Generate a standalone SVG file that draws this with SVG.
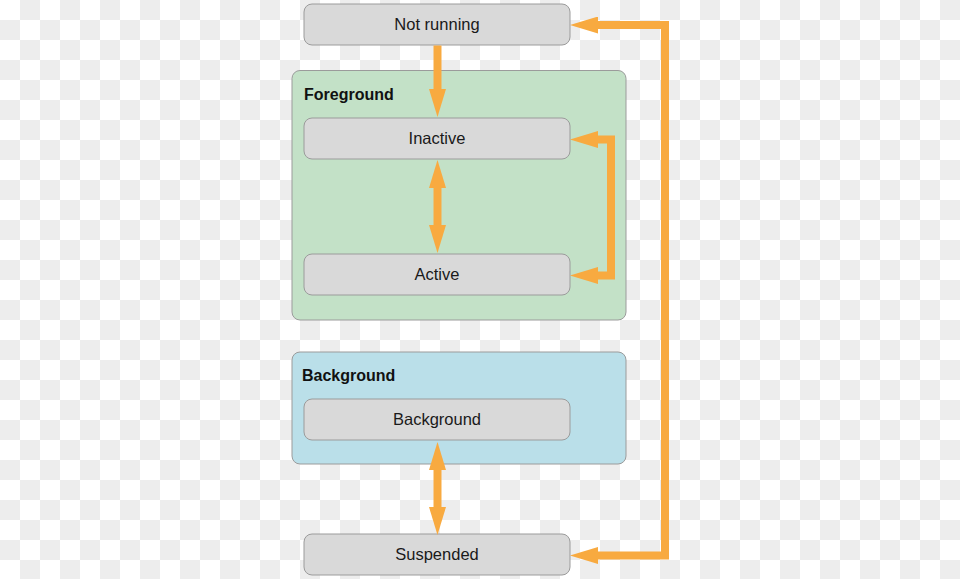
<svg xmlns="http://www.w3.org/2000/svg" width="960" height="579" viewBox="0 0 960 579">
<defs>
<pattern id="checker" x="0" y="0" width="40" height="40" patternUnits="userSpaceOnUse">
<rect x="0" y="0" width="40" height="40" fill="#ffffff"/>
<rect x="20" y="0" width="20" height="20" fill="#ededed"/>
<rect x="0" y="20" width="20" height="20" fill="#ededed"/>
</pattern>
<marker id="arrow" viewBox="0 0 28 17" refX="0" refY="8.5" markerWidth="28" markerHeight="17" markerUnits="userSpaceOnUse" orient="auto-start-reverse">
<path d="M0,0 L28,8.5 L0,17 z" fill="#f8aa40"/>
</marker>
<style>
.state rect { fill: #d9d9d9; stroke: #9b9b9b; stroke-width: 1; }
.state text { font-family: "Liberation Sans", Arial, sans-serif; font-size: 16.5px; fill: #1a1a1a; text-anchor: middle; }
.group-fg { fill: #c3e1c7; stroke: #9b9b9b; stroke-width: 1; }
.group-bg { fill: #badfe9; stroke: #9b9b9b; stroke-width: 1; }
.group-label { font-family: "Liberation Sans", Arial, sans-serif; font-size: 16px; font-weight: bold; fill: #111111; }
.conn { fill: none; stroke: #f8aa40; stroke-width: 8; stroke-linejoin: miter; }
</style>
</defs>
<rect x="0" y="0" width="960" height="579" fill="url(#checker)"/>

<g id="foreground-group">
<rect class="group-fg" x="292" y="70.5" width="334" height="249.5" rx="8"/>
<text class="group-label" x="304" y="100">Foreground</text>
</g>
<g id="background-group">
<rect class="group-bg" x="292" y="352" width="334" height="112" rx="8"/>
<text class="group-label" x="302" y="381">Background</text>
</g>

<g id="not-running" class="state">
<rect x="304" y="4" width="266" height="41" rx="8"/>
<text x="437" y="30">Not running</text>
</g>
<g id="inactive" class="state">
<rect x="304" y="118" width="266" height="41" rx="8"/>
<text x="437" y="144">Inactive</text>
</g>
<g id="active" class="state">
<rect x="304" y="254" width="266" height="41" rx="8"/>
<text x="437" y="280">Active</text>
</g>
<g id="background" class="state">
<rect x="304" y="399" width="266" height="41" rx="8"/>
<text x="437" y="425">Background</text>
</g>
<g id="suspended" class="state">
<rect x="304" y="534" width="266" height="41" rx="8"/>
<text x="437" y="560">Suspended</text>
</g>

<g id="connectors">
<path class="conn" d="M437.5,45.5 L437.5,89" marker-end="url(#arrow)"/>
<path class="conn" d="M437.5,188 L437.5,225" marker-start="url(#arrow)" marker-end="url(#arrow)"/>
<path class="conn" d="M437.5,470 L437.5,507" marker-start="url(#arrow)" marker-end="url(#arrow)"/>
<path class="conn" d="M598,139.5 L611,139.5 L611,275.5 L598,275.5" marker-start="url(#arrow)" marker-end="url(#arrow)"/>
<path class="conn" d="M598,25 L665,25 L665,555.5 L598,555.5" marker-start="url(#arrow)" marker-end="url(#arrow)"/>
</g>
</svg>
